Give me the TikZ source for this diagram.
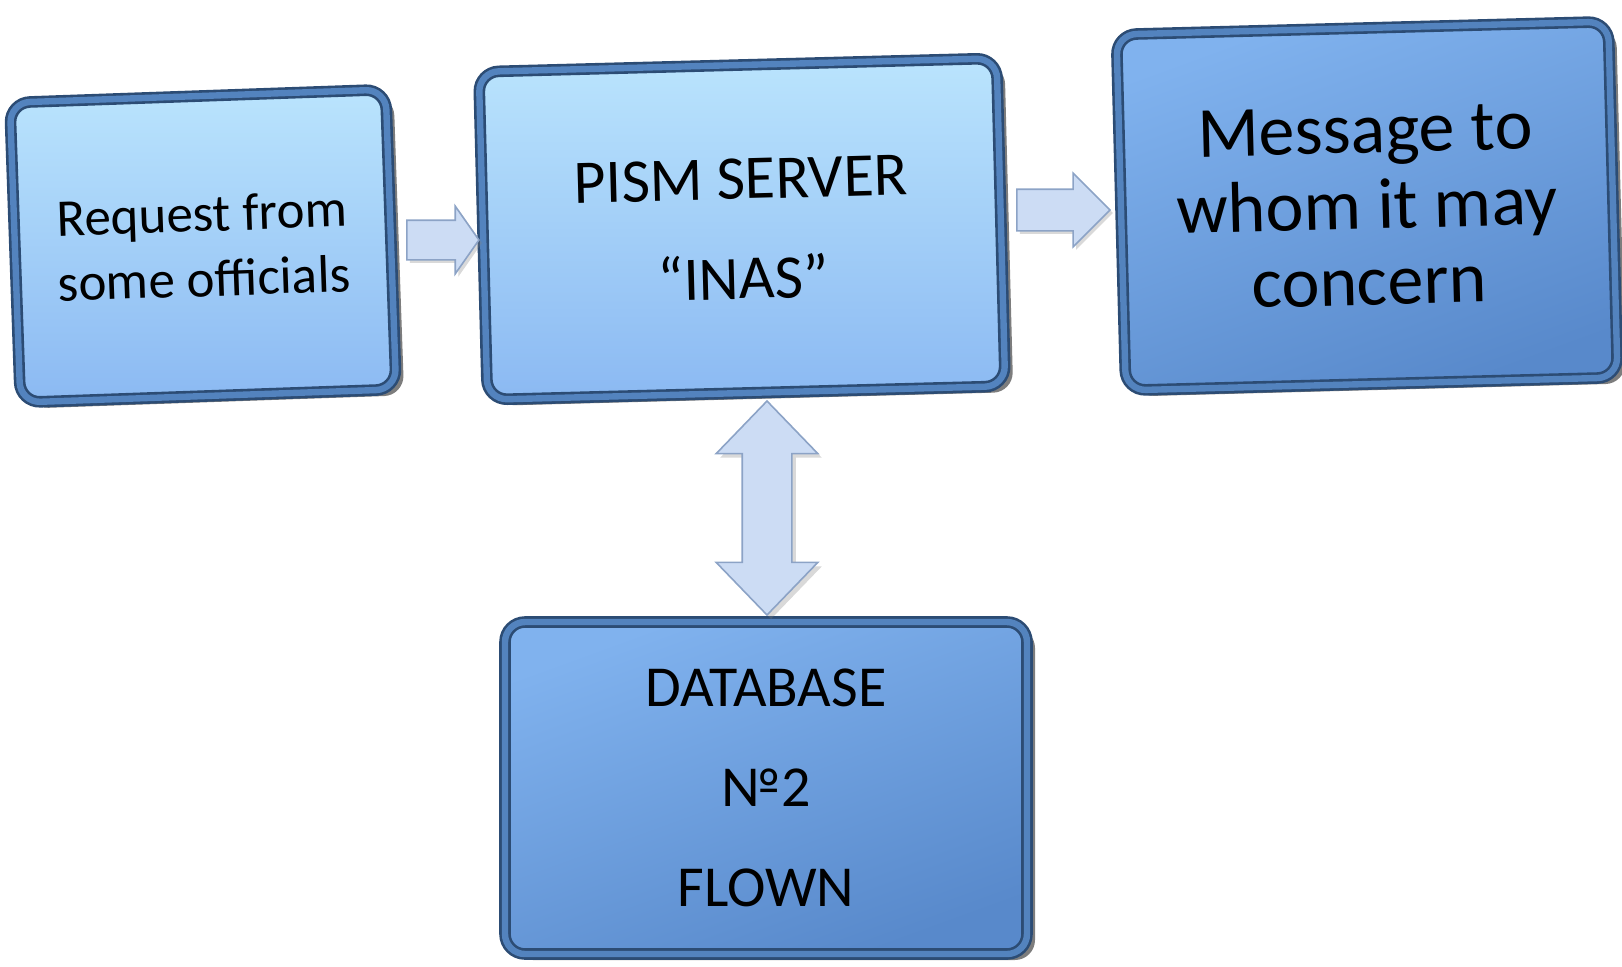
\documentclass[tikz,border=0pt]{standalone}
\usepackage{fontspec}
\setmainfont{Carlito}
\usetikzlibrary{shapes.arrows, shadows}

\definecolor{rimdark}{HTML}{2C4C74}
\definecolor{rimmid}{HTML}{5383BE}
\definecolor{lightTop}{HTML}{BAE4FD}
\definecolor{lightBot}{HTML}{8BB9F2}
\definecolor{darkTop}{HTML}{80B2EE}
\definecolor{darkBot}{HTML}{5889CB}
\definecolor{arrowfill}{HTML}{CCDCF4}
\definecolor{arrowrim}{HTML}{8CA3C6}

\tikzset{
  box/.style={rectangle, rounded corners=10pt, align=center,
              draw=rimdark, line width=1.3pt, double=rimmid, double distance=3.2pt,
              drop shadow={shadow xshift=4pt, shadow yshift=-3pt, opacity=.6, fill=black!85}},
  lightbox/.style={box, top color=lightTop, bottom color=lightBot},
  darkbox/.style={box, top color=darkTop, bottom color=darkBot, shading angle=20},
  rarrow/.style={single arrow, draw=arrowrim, fill=arrowfill, line width=.8pt,
                 inner xsep=0pt,
                 drop shadow={shadow xshift=1.5pt, shadow yshift=-1.5pt, opacity=.3}},
  udarrow/.style={double arrow, draw=arrowrim, fill=arrowfill, line width=.8pt,
                  inner xsep=0pt, inner ysep=12pt, rotate=90,
                  double arrow head extend=13pt, double arrow tip angle=88,
                  minimum height=107pt,
                  drop shadow={shadow xshift=2pt, shadow yshift=-2pt, opacity=.3}}
}

\begin{document}
\begin{tikzpicture}[x=0.5pt, y=-0.5pt]
  \useasboundingbox (0,0) rectangle (1622,966);

  \node (req) [lightbox, minimum width=188pt, minimum height=150pt, rotate=2,
               font=\fontsize{26.5}{32.5}\selectfont] at (203,246)
        {Request from\\some officials};
  \node (srv) [lightbox, minimum width=259pt, minimum height=164pt, rotate=1.5,
               font=\fontsize{31}{50}\selectfont] at (742,229)
        {PISM SERVER\\“INAS”};
  \node (msg) [darkbox, minimum width=246pt, minimum height=178pt, rotate=1.5,
               font=\fontsize{36}{38}\selectfont] at (1367,206)
        {Message to\\whom it may\\concern};
  \node (db) [darkbox, minimum width=261pt, minimum height=166pt,
              font=\fontsize{29}{50}\selectfont] at (766,788)
        {DATABASE\\№2\\FLOWN};

  % block arrows between the boxes
  \node (toSrv) [rarrow, minimum height=36pt, inner ysep=9.5pt,
                 single arrow head extend=7pt, single arrow tip angle=110] at (436,240) {};
  \node (toMsg) [rarrow, minimum height=46.5pt, inner ysep=10pt,
                 single arrow head extend=8pt, single arrow tip angle=90] at (1053,210) {};
  \node (srvDb) [udarrow] at (767,508) {};
\end{tikzpicture}
\end{document}
